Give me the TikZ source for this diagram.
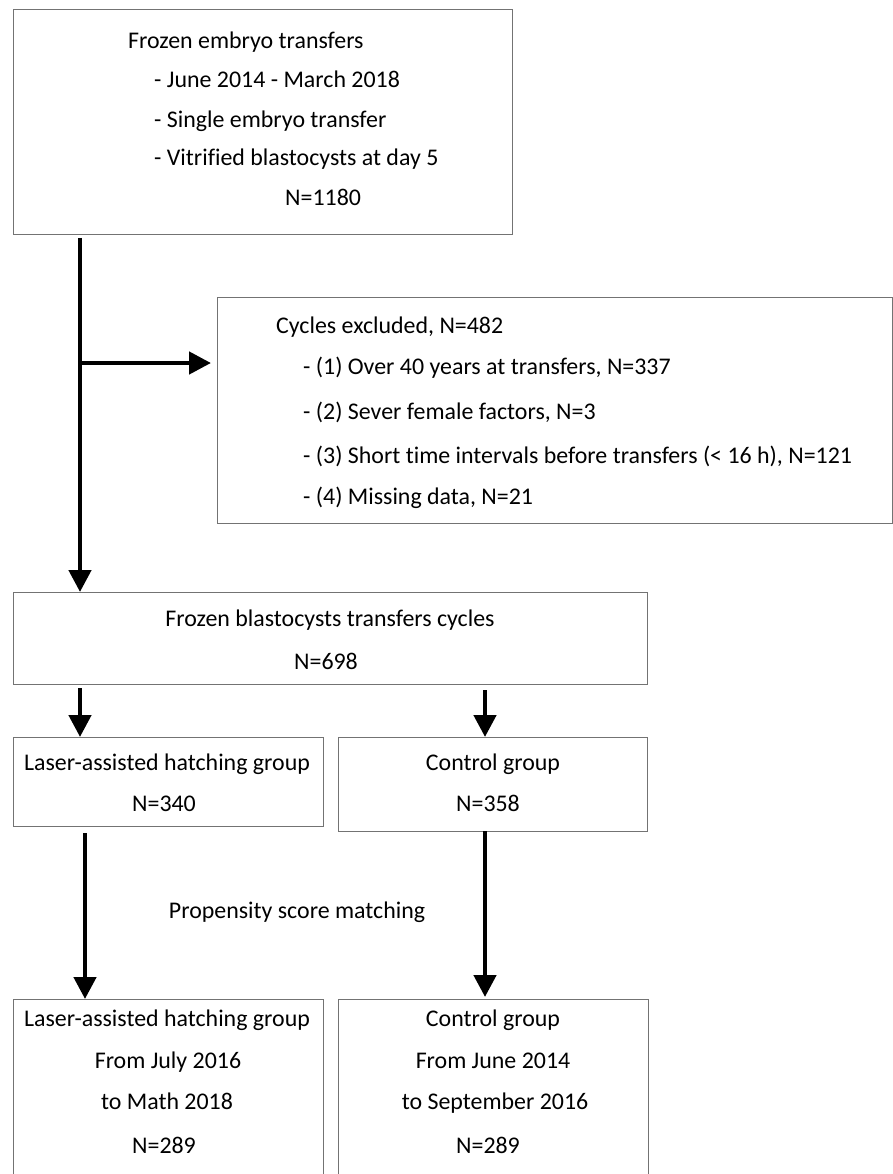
\documentclass[tikz,border=0pt]{standalone}
\usepackage{fontspec}
\setmainfont{Carlito}[Ligatures=NoCommon]
\usetikzlibrary{arrows.meta, positioning}

\begin{document}
\begin{tikzpicture}[x=1pt, y=-1pt,
  box/.style={draw=black!55, line width=1.4pt, anchor=north west, inner sep=0pt},
  txt/.style={inner sep=0pt, text height=17pt, text depth=5pt, font=\fontsize{23.9}{28}\selectfont},
  flow/.style={line width=4.6pt, -{Triangle[width=22pt,length=22pt]}}]
\useasboundingbox (0,0) rectangle (893,1174);

% boxes
\node[box, minimum width=499pt, minimum height=225pt] (start) at (13,9) {};
\node[box, minimum width=675pt, minimum height=226pt] (excl) at (217,297) {};
\node[box, minimum width=634pt, minimum height=92pt] (pool) at (13,592) {};
\node[box, minimum width=310pt, minimum height=89pt] (lah) at (13,737) {};
\node[box, minimum width=309pt, minimum height=94pt] (ctl) at (338,737) {};
\node[box, minimum width=310pt, minimum height=200pt] (lahm) at (13,999) {};
\node[box, minimum width=310pt, minimum height=200pt] (ctlm) at (338,999) {};

% texts
\node[txt, anchor=west] (s1) at (128,43) {Frozen embryo transfers};
\node[txt, anchor=west] (s2) at (154,82) {- June 2014 - March 2018};
\node[txt, anchor=west] (s3) at (154,122) {- Single embryo transfer};
\node[txt, anchor=west] (s4) at (154,160) {- Vitrified blastocysts at day 5};
\node[txt, anchor=west] (s5) at (285,200) {N=1180};

\node[txt, anchor=west] (e0) at (276,327) {Cycles excluded, N=482};
\node[txt, anchor=west] (e1) at (303,368) {- (1) Over 40 years at transfers, N=337};
\node[txt, anchor=west] (e2) at (303,413) {- (2) Sever female factors, N=3};
\node[txt, anchor=west] (e3) at (303,457) {- (3) Short time intervals before transfers (< 16 h), N=121};
\node[txt, anchor=west] (e4) at (303,498) {- (4) Missing data, N=21};

\node[txt] (p1) at (330,620) {Frozen blastocysts transfers cycles};
\node[txt] (p2) at (326,663) {N=698};

\node[txt] (l1) at (167,764) {Laser-assisted hatching group};
\node[txt] (l2) at (164,805) {N=340};
\node[txt] (c1) at (493,764) {Control group};
\node[txt] (c2) at (488,805) {N=358};

\node[txt] (psm) at (297,912) {Propensity score matching};

\node[txt] (lm1) at (167,1020) {Laser-assisted hatching group};
\node[txt] (lm2) at (168,1062) {From July 2016};
\node[txt] (lm3) at (167,1103) {to Math 2018};
\node[txt] (lm4) at (164,1147) {N=289};
\node[txt] (cm1) at (493,1020) {Control group};
\node[txt] (cm2) at (493,1062) {From June 2014};
\node[txt] (cm3) at (495,1103) {to September 2016};
\node[txt] (cm4) at (488,1147) {N=289};

% arrows
\coordinate (trunk) at (80,238);
\coordinate (fork) at (80,363);
\draw[flow] (trunk) -- (trunk |- pool.north);
\draw[flow, shorten >=6pt] (fork) -- (fork -| excl.west);

\coordinate (splitL) at (80,688);
\coordinate (splitR) at (485,690);
\draw[flow] (splitL) -- (splitL |- lah.north);
\draw[flow] (splitR) -- (splitR |- ctl.north);

\coordinate (matchL) at (85,833);
\coordinate (matchR) at (485,831);
\draw[flow] (matchL) -- (matchL |- lahm.north);
\draw[flow, shorten >=2pt] (matchR) -- (matchR |- ctlm.north);
\end{tikzpicture}
\end{document}
